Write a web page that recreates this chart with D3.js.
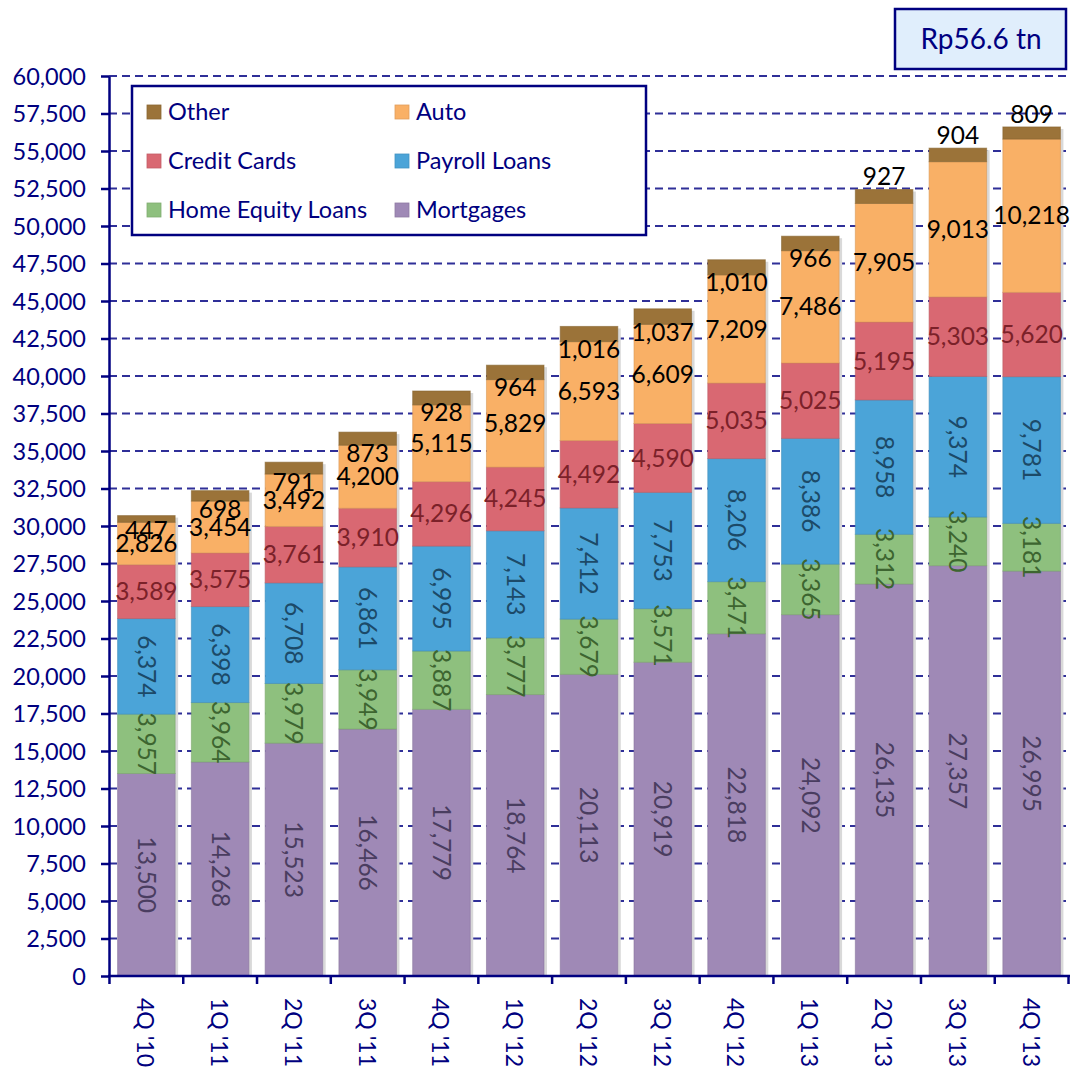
<!DOCTYPE html>
<html>
<head>
<meta charset="utf-8">
<script src="https://cdn.jsdelivr.net/npm/d3@7"></script>
<style>
  body { margin: 0; background: #fff; }
  svg { display: block; font-family: Lato, "Open Sans", sans-serif; }
</style>
</head>
<body>
<div id="chart"></div>
<script>
// Quarters on the x axis
const quarters = ["4Q '10", "1Q '11", "2Q '11", "3Q '11", "4Q '11", "1Q '12", "2Q '12",
  "3Q '12", "4Q '12", "1Q '13", "2Q '13", "3Q '13", "4Q '13"];

// Series values (Rp bn), bottom to top of the stack
const mortgages = [13500, 14268, 15523, 16466, 17779, 18764, 20113, 20919, 22818, 24092, 26135, 27357, 26995];
const homeEquity = [3957, 3964, 3979, 3949, 3887, 3777, 3679, 3571, 3471, 3365, 3312, 3240, 3181];
const payroll = [6374, 6398, 6708, 6861, 6995, 7143, 7412, 7753, 8206, 8386, 8958, 9374, 9781];
const creditCards = [3589, 3575, 3761, 3910, 4296, 4245, 4492, 4590, 5035, 5025, 5195, 5303, 5620];
const auto = [2826, 3454, 3492, 4200, 5115, 5829, 6593, 6609, 7209, 7486, 7905, 9013, 10218];
const other = [447, 698, 791, 873, 928, 964, 1016, 1037, 1010, 966, 927, 904, 809];

const yTicks = d3.range(0, 60001, 2500);
const totalLabel = "Rp56.6 tn";

const series = [
  { key: "Mortgages", values: mortgages, fill: "#9f89b6", text: "#4a3d60", rotate: true },
  { key: "Home Equity Loans", values: homeEquity, fill: "#8ec07e", text: "#3d6530", rotate: true },
  { key: "Payroll Loans", values: payroll, fill: "#4ba4d8", text: "#1c4a68", rotate: true },
  { key: "Credit Cards", values: creditCards, fill: "#d96872", text: "#7b2129", rotate: false },
  { key: "Auto", values: auto, fill: "#f9b066", text: "#000", rotate: false },
  { key: "Other", values: other, fill: "#9b7339", text: "#000", rotate: false }
];

const W = 1073, H = 1068;
const navy = "#000080";
const svg = d3.select("#chart").append("svg").attr("width", W).attr("height", H);
svg.append("rect").attr("width", W).attr("height", H).attr("fill", "#fff");

const x = d3.scaleBand().domain(quarters).range([108, 1070]).paddingInner(0.22).paddingOuter(0.13);
const y = d3.scaleLinear().domain([0, 60000]).range([976, 76]);

// stacked layout
const rows = quarters.map((q, i) => {
  const r = { q };
  series.forEach(s => { r[s.key] = s.values[i]; });
  return r;
});
const stacked = d3.stack().keys(series.map(s => s.key))(rows);

// gridlines
svg.append("g").selectAll("line")
  .data(yTicks.filter(d => d > 0))
  .enter().append("line")
  .attr("x1", 109).attr("x2", 1070)
  .attr("y1", d => y(d)).attr("y2", d => y(d))
  .attr("stroke", "#2f2f98")
  .attr("stroke-width", 2)
  .attr("stroke-dasharray", "8,5");

// y axis
const yAxis = svg.append("g")
  .attr("transform", "translate(109,0)")
  .call(d3.axisLeft(y).tickValues(yTicks).tickFormat(d3.format(",")).tickSize(8).tickSizeOuter(0));
yAxis.select(".domain").attr("stroke", navy).attr("stroke-width", 2.5);
yAxis.selectAll(".tick line").attr("stroke", navy).attr("stroke-width", 2.5);
yAxis.selectAll(".tick text")
  .attr("fill", navy).attr("x", -23).attr("dy", "0.36em")
  .style("font-size", "23.5px").style("font-family", "Lato, sans-serif");

// bar shadows
const bw = x.bandwidth();
svg.append("g").selectAll("rect")
  .data(rows)
  .enter().append("rect")
  .attr("x", d => x(d.q) + 3)
  .attr("width", bw)
  .attr("y", (d, i) => y(stacked[stacked.length - 1][i][1]) + 2)
  .attr("height", (d, i) => y(0) - y(stacked[stacked.length - 1][i][1]) - 2)
  .attr("fill", "#d9d9d9");

// bar segments
stacked.forEach((layer, li) => {
  const s = series[li];
  svg.append("g").selectAll("rect")
    .data(layer)
    .enter().append("rect")
    .attr("x", d => x(d.data.q))
    .attr("width", bw)
    .attr("y", d => y(d[1]))
    .attr("height", d => y(d[0]) - y(d[1]))
    .attr("fill", s.fill)
    .attr("stroke", d3.color(s.fill).darker(0.4))
    .attr("stroke-opacity", 0.6)
    .attr("stroke-width", 1);
});

// x axis line and boundary ticks
const step = x.step();
const gap = (step - bw) / 2;
svg.append("line")
  .attr("x1", 108).attr("x2", 1070).attr("y1", y(0)).attr("y2", y(0))
  .attr("stroke", navy).attr("stroke-width", 2.5);
svg.append("g").selectAll("line")
  .data(quarters.concat(["end"]))
  .enter().append("line")
  .attr("x1", (d, i) => i < quarters.length ? x(d) - gap : x(quarters[i - 1]) + bw + gap)
  .attr("x2", (d, i) => i < quarters.length ? x(d) - gap : x(quarters[i - 1]) + bw + gap)
  .attr("y1", y(0)).attr("y2", y(0) + 8)
  .attr("stroke", navy).attr("stroke-width", 2.5);

svg.append("g").selectAll("text")
  .data(quarters)
  .enter().append("text")
  .attr("transform", d => `translate(${x(d) + bw / 2 - 1},${y(0) + 22}) rotate(90)`)
  .attr("dy", "0.35em")
  .attr("fill", navy)
  .style("font-size", "23px")
  .text(d => d);

// data labels
const fmt = d3.format(",");
stacked.forEach((layer, li) => {
  const s = series[li];
  const g = svg.append("g").attr("fill", s.text).style("font-size", "24.5px");
  g.selectAll("text")
    .data(layer)
    .enter().append("text")
    .attr("text-anchor", "middle")
    .attr("dy", "0.35em")
    .attr("transform", d => {
      const cx = x(d.data.q) + bw / 2;
      let cy = (y(d[0]) + y(d[1])) / 2;
      if (s.key === "Other") {
        // labels sit just under the brown cap, or above it on the tallest bars
        cy = d[1] > 52000 ? y(d[1]) - 13 : y(d[0]) + 8;
      }
      return s.rotate ? `translate(${cx},${cy}) rotate(90)` : `translate(${cx},${cy})`;
    })
    .text(d => fmt(d[1] - d[0]));
});

// legend
const legend = svg.append("g");
legend.append("rect")
  .attr("x", 132).attr("y", 86).attr("width", 514).attr("height", 149)
  .attr("fill", "#fff").attr("stroke", navy).attr("stroke-width", 2.5);
const legendOrder = ["Other", "Auto", "Credit Cards", "Payroll Loans", "Home Equity Loans", "Mortgages"];
const items = legend.selectAll(".legend-item")
  .data(legendOrder)
  .enter().append("g")
  .attr("class", "legend-item")
  .attr("transform", (d, i) => `translate(${147 + (i % 2) * 248},${112 + Math.floor(i / 2) * 49})`);
items.append("rect")
  .attr("x", 0).attr("y", -7).attr("width", 14).attr("height", 14)
  .attr("fill", d => series.find(s => s.key === d).fill)
  .attr("stroke", d => d3.color(series.find(s => s.key === d).fill).darker(0.3))
  .attr("stroke-width", 0.8);
items.append("text")
  .attr("x", 21).attr("dy", "0.35em")
  .attr("fill", navy)
  .style("font-size", "23.5px")
  .text(d => d);

// total box
svg.append("rect")
  .attr("x", 895).attr("y", 9).attr("width", 171).attr("height", 60)
  .attr("fill", "#e0eefc").attr("stroke", navy).attr("stroke-width", 2.5);
svg.append("text")
  .attr("x", 981).attr("y", 39).attr("dy", "0.35em")
  .attr("text-anchor", "middle")
  .attr("fill", navy)
  .style("font-size", "28px")
  .text(totalLabel);
</script>
</body>
</html>
